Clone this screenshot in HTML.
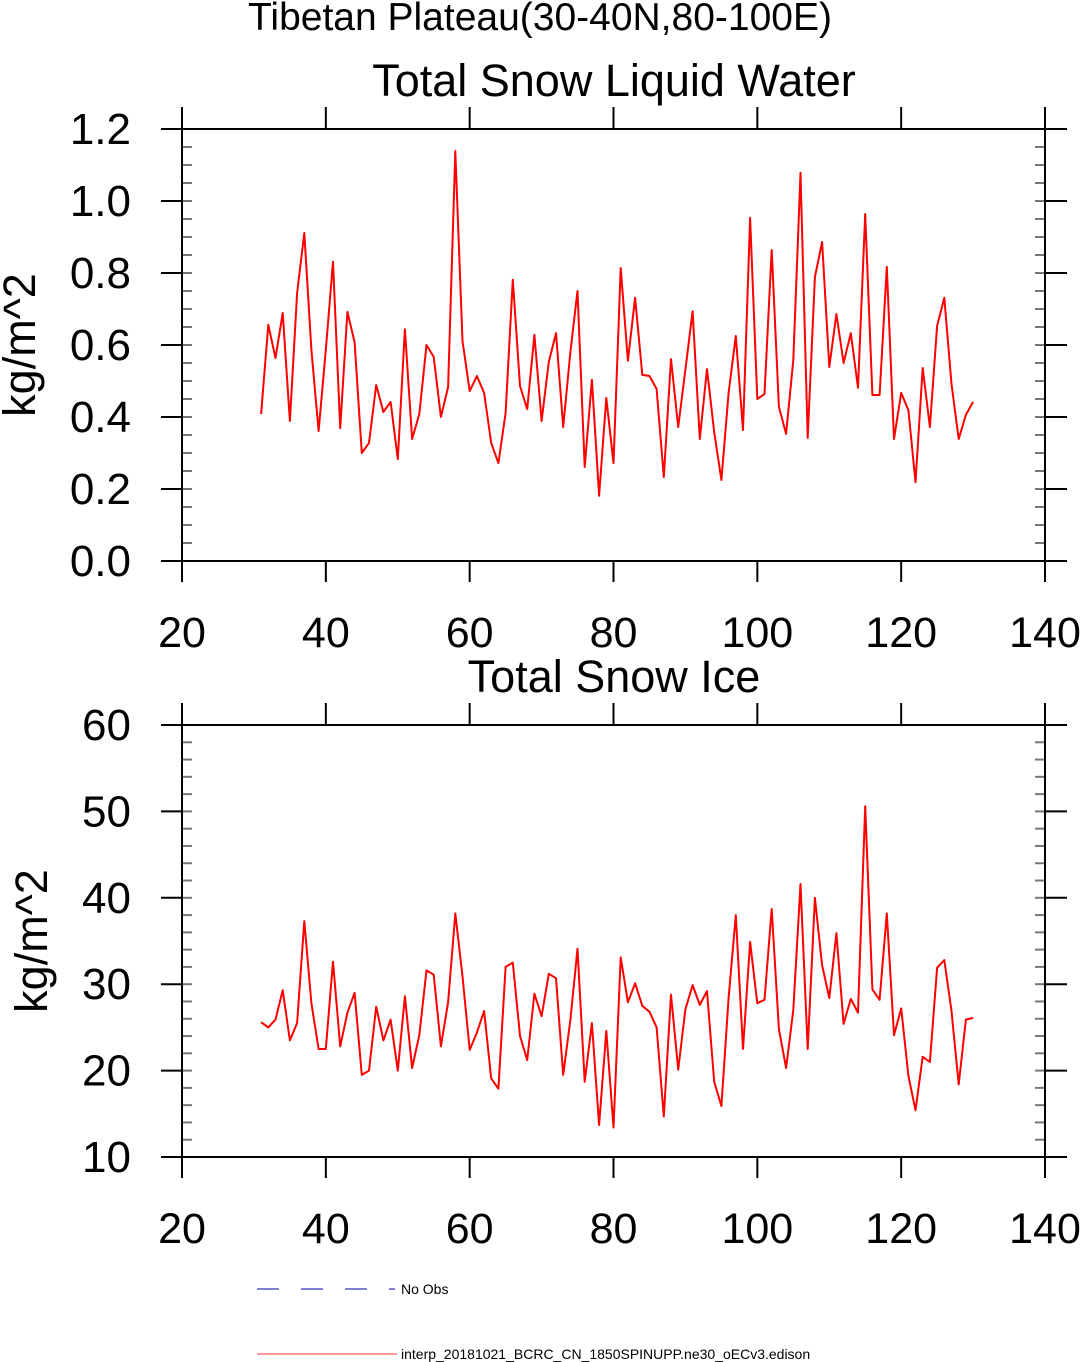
<!DOCTYPE html>
<html><head><meta charset="utf-8"><style>
body{margin:0;background:#fff}
svg{display:block;font-family:"Liberation Sans",sans-serif}
</style></head><body>
<svg id="c" width="1080" height="1362" xmlns="http://www.w3.org/2000/svg">
<text x="540" y="30" font-size="39" text-anchor="middle">Tibetan Plateau(30-40N,80-100E)</text>
<line x1="257" y1="1289" x2="395" y2="1289" stroke="#00a" stroke-width="1" stroke-dasharray="22,22"/>
<text x="401" y="1294" font-size="14">No Obs</text>
<line x1="257" y1="1354" x2="397" y2="1354" stroke="#f77" stroke-width="1.5"/>
<text x="401" y="1359" font-size="14">interp_20181021_BCRC_CN_1850SPINUPP.ne30_oECv3.edison</text>
</svg>
<script>
const years = Array.from({length:100},(_,i)=>31+i);
const liquidValues=[0.408,0.656,0.564,0.689,0.389,0.744,0.911,0.586,0.361,0.586,0.831,0.369,0.692,0.608,0.300,0.328,0.489,0.414,0.442,0.283,0.644,0.339,0.408,0.600,0.567,0.400,0.483,1.139,0.611,0.472,0.514,0.467,0.328,0.272,0.411,0.781,0.486,0.422,0.628,0.389,0.553,0.633,0.372,0.581,0.750,0.261,0.503,0.181,0.453,0.272,0.814,0.556,0.731,0.517,0.514,0.478,0.233,0.561,0.372,0.531,0.694,0.339,0.533,0.358,0.225,0.467,0.625,0.364,0.953,0.450,0.464,0.864,0.428,0.353,0.558,1.078,0.342,0.789,0.886,0.539,0.686,0.550,0.633,0.481,0.964,0.461,0.461,0.817,0.339,0.467,0.419,0.219,0.536,0.372,0.653,0.731,0.492,0.339,0.406,0.442];
const iceValues=[25.6,25.0,25.9,29.3,23.5,25.5,37.3,27.8,22.5,22.5,32.6,22.8,26.7,29.0,19.5,20.0,27.4,23.5,25.9,20.0,28.6,20.3,24.1,31.6,31.1,22.8,27.9,38.2,30.9,22.4,24.4,26.9,19.1,17.9,32.0,32.5,24.0,21.2,28.9,26.3,31.2,30.7,19.5,25.9,34.1,18.7,25.5,13.7,24.6,13.4,33.1,27.9,30.1,27.5,26.8,25.0,14.7,28.8,20.1,27.1,29.9,27.6,29.2,18.7,15.9,28.4,38.0,22.5,34.9,27.8,28.2,38.7,24.8,20.3,27.0,41.6,22.5,40.0,32.2,28.4,35.9,25.4,28.3,26.7,50.6,29.4,28.2,38.2,24.1,27.2,19.4,15.4,21.6,21.0,31.9,32.8,26.9,18.4,25.9,26.1];
const xTicks=[20,40,60,80,100,120,140];
const liquidTicks=["0.0","0.2","0.4","0.6","0.8","1.0","1.2"];
const iceTicks=["10","20","30","40","50","60"];
const NS="http://www.w3.org/2000/svg";
const svg=document.getElementById('c');
function mk(t,a,p){const e=document.createElementNS(NS,t);for(const k in a)e.setAttribute(k,a[k]);(p||svg).appendChild(e);return e;}
function panel(o){
  const L=182,R=1045,T=o.top,B=o.top+432;
  const g=mk('g',{});
  
  
  const xs=v=>L+(v-20)*(R-L)/120;
  const ys=v=>B-(v-o.ymin)*(B-T)/(o.ymax-o.ymin);
  const t=mk('text',{x:614,y:T-33,'font-size':45,'text-anchor':'middle'},g);t.textContent=o.title;
  
  
  for(let v=o.ymin;v<=o.ymax+1e-9;v+=o.minor){
    mk('line',{x1:L,x2:L+10,y1:ys(v),y2:ys(v),stroke:'#777','stroke-width':2},g);
    mk('line',{x1:R-10,x2:R,y1:ys(v),y2:ys(v),stroke:'#777','stroke-width':2},g);
  }
  o.ticks.forEach(s=>{const v=parseFloat(s),y=ys(v);
    mk('line',{x1:L-21,x2:L,y1:y,y2:y,stroke:'#000','stroke-width':2},g);
    mk('line',{x1:R,x2:R+22,y1:y,y2:y,stroke:'#000','stroke-width':2},g);
    const tx=mk('text',{x:131,y:y+15,'font-size':44,'text-anchor':'end'},g);tx.textContent=s;
    
    
  });
  xTicks.forEach(v=>{const x=xs(v);
    mk('line',{x1:x,x2:x,y1:B,y2:B+21,stroke:'#000','stroke-width':2},g);
    mk('line',{x1:x,x2:x,y1:T-22,y2:T,stroke:'#000','stroke-width':2},g);
    const tx=mk('text',{x:x,y:B+86,'font-size':43,'text-anchor':'middle'},g);tx.textContent=v;
    
    
  });
  mk('rect',{x:L,y:T,width:R-L,height:B-T,fill:'none',stroke:'#000','stroke-width':2},g);
  const yl=mk('text',{x:0,y:0,'font-size':45,'text-anchor':'middle',transform:`translate(${o.ylx},${(T+B)/2}) rotate(-90)`},g);yl.textContent='kg/m^2';
  
  
  const pts=o.vals.map((v,i)=>xs(years[i]).toFixed(1)+','+ys(v).toFixed(1)).join(' ');
  const pl=mk('polyline',{points:pts,fill:'none',stroke:'#f00','stroke-width':2,'stroke-linejoin':'round'},g);
  
  
}
panel({name:'liquid-water-panel',top:129,ymin:0,ymax:1.2,minor:0.05,ticks:liquidTicks,vals:liquidValues,title:'Total Snow Liquid Water',ylx:35});
panel({name:'snow-ice-panel',top:725,ymin:10,ymax:60,minor:2,ticks:iceTicks,vals:iceValues,title:'Total Snow Ice',ylx:47});
</script>
</body></html>
